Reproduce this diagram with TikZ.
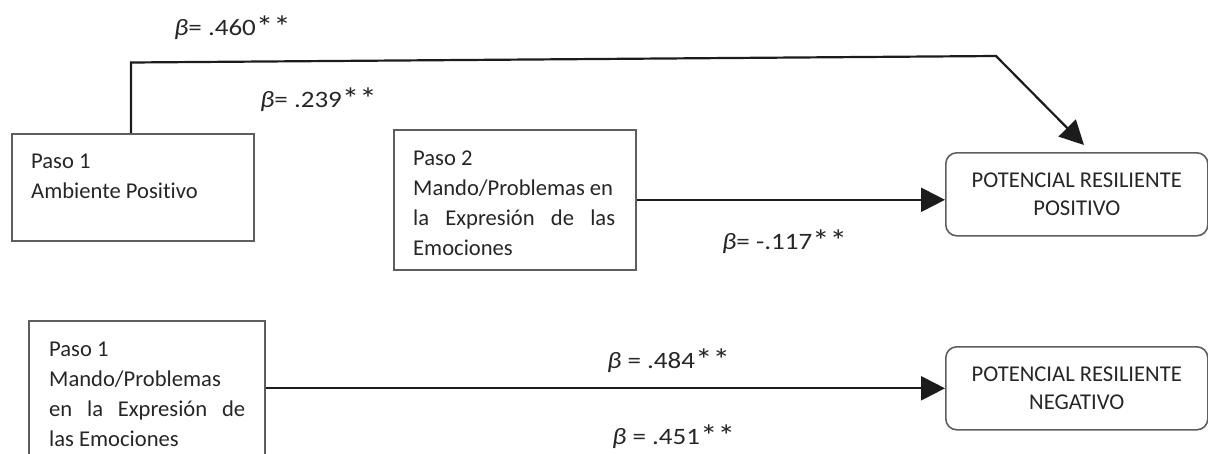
\documentclass[tikz,border=0pt]{standalone}
\usepackage{fontspec}
\usepackage{graphicx}
\setmainfont{Carlito}[Ligatures=NoCommon]
\newfontfamily\lblfont{Carlito}[FakeStretch=1.15,Ligatures=NoCommon]
\newcommand\mystars{\raisebox{-0.12em}{\scalebox{1.3}{*}}\raisebox{-0.12em}{\scalebox{1.3}{*}}}
\usetikzlibrary{arrows.meta}
\definecolor{boxgray}{HTML}{5E5E5E}
\definecolor{txtgray}{HTML}{262626}
\definecolor{linedark}{HTML}{1C1C1C}
\tikzset{
  sqbox/.style={draw=boxgray, line width=1.6pt, rectangle, inner sep=0pt, anchor=north west},
  rbox/.style={draw=boxgray, line width=1.6pt, rectangle, rounded corners=11pt, inner sep=0pt,
    anchor=north west, align=center, text=txtgray, minimum width=262pt, minimum height=83pt,
    font=\fontsize{22.6}{28.3}\selectfont},
  txt/.style={inner sep=0pt, anchor=base west, text=txtgray, font=\fontsize{22.6}{30}\selectfont},
  lbl/.style={inner sep=0pt, anchor=base west, text=txtgray, font=\lblfont\fontsize{23.5}{27}\selectfont},
  conn/.style={draw=linedark, line width=2.2pt},
  arr/.style={conn, -{Triangle[length=24pt,width=24pt]}},
}
\begin{document}
\begin{tikzpicture}[x=1pt,y=-1pt]
\useasboundingbox (0,0) rectangle (1208,453);
\clip (0,0) rectangle (1208,453);
% boxes
\node[sqbox, minimum width=242pt, minimum height=107pt] (b1) at (11,133) {};
\node[sqbox, minimum width=242pt, minimum height=140pt] (b2) at (393,129) {};
\node[sqbox, minimum width=236pt, minimum height=200pt] (b3) at (28,320) {};
\node[rbox] (prp) at (945,152) {POTENCIAL RESILIENTE\\POSITIVO};
\node[rbox] (prn) at (945,346) {POTENCIAL RESILIENTE\\NEGATIVO};
% box texts
\node[txt] (t1) at (31,168) {\parbox[t]{200pt}{Paso 1\\Ambiente Positivo}};
\node[txt] (t2) at (413,165) {\parbox[t]{202pt}{Paso 2\\Mando/Problemas en\\\makebox[\linewidth][s]{la Expresión de las}\\Emociones}};
\node[txt] (t3) at (49,356) {\parbox[t]{196pt}{Paso 1\\Mando/Problemas\\\makebox[\linewidth][s]{en la Expresión de}\\las Emociones}};
% connectors
\coordinate (c1) at (131,62.5);
\coordinate (c2) at (996,56);
\coordinate (tip) at (1084,145);
\draw[arr] (b1.north -| c1) -- (c1) -- (c2) -- (tip);
\draw[arr] (b2.east) -- (b2.east -| prp.west);
\draw[arr] (prn.west -| b3.east) -- (prn.west);
% labels
\node[lbl] (l460) at (174,35) {\textit{β}= .460\mystars};
\node[lbl] (l239) at (260,107) {\textit{β}= .239\mystars};
\node[lbl] (l117) at (722,249) {\textit{β}= -.117\mystars};
\node[lbl] (l484) at (607,368) {\textit{β} = .484\mystars};
\node[lbl] (l451) at (612,444) {\textit{β} = .451\mystars};
\end{tikzpicture}
\end{document}
